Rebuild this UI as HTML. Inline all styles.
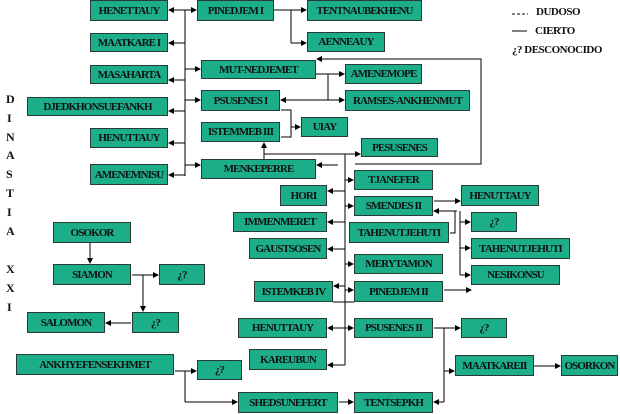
<!DOCTYPE html>
<html><head><meta charset="utf-8"><style>
body{margin:0;width:620px;height:414px;background:#fff;position:relative;overflow:hidden;font-family:"Liberation Serif",serif;font-weight:bold;}
.b{position:absolute;box-sizing:border-box;background:#1bae89;border:1px solid #2a3a34;font-size:11px;letter-spacing:-0.9px;display:flex;align-items:center;justify-content:center;color:#111;white-space:nowrap;}
.t{position:absolute;font-size:12px;color:#111;}
svg{position:absolute;left:0;top:0;}
</style></head><body>
<svg width="620" height="414" viewBox="0 0 620 414">
<defs><marker id="a" markerWidth="6" markerHeight="6" refX="5" refY="3" orient="auto" markerUnits="userSpaceOnUse"><path d="M0,0L6,3L0,6z" fill="#000"/></marker></defs>
<g stroke="#000" stroke-width="1" fill="none">
<line x1="185" y1="10" x2="185" y2="176"/>
<line x1="185" y1="10" x2="169" y2="10" marker-end="url(#a)"/>
<line x1="185" y1="10" x2="196" y2="10" marker-end="url(#a)"/>
<line x1="185" y1="43" x2="169" y2="43" marker-end="url(#a)"/>
<line x1="185" y1="80" x2="169" y2="80" marker-end="url(#a)"/>
<line x1="185" y1="69" x2="200" y2="69" marker-end="url(#a)"/>
<line x1="185" y1="100" x2="200" y2="100" marker-end="url(#a)"/>
<line x1="185" y1="111" x2="169" y2="111" marker-end="url(#a)"/>
<line x1="185" y1="143" x2="169" y2="143" marker-end="url(#a)"/>
<line x1="185" y1="165" x2="200" y2="165" marker-end="url(#a)"/>
<line x1="185" y1="175" x2="169" y2="175" marker-end="url(#a)"/>
<line x1="274" y1="10" x2="306" y2="10" marker-end="url(#a)"/>
<line x1="291" y1="10" x2="291" y2="43"/>
<line x1="291" y1="43" x2="306" y2="43" marker-end="url(#a)"/>
<polyline points="355,164 481,164 481,59 317,59" marker-end="url(#a)"/>
<line x1="316" y1="74" x2="344" y2="74" marker-end="url(#a)"/>
<line x1="328" y1="74" x2="328" y2="100"/>
<line x1="344" y1="100" x2="281" y2="100" marker-end="url(#a)"/>
<line x1="328" y1="100" x2="344" y2="100" marker-end="url(#a)"/>
<polyline points="281,110 291,110 291,137 281,137"/>
<line x1="291" y1="127" x2="300" y2="127" marker-end="url(#a)"/>
<line x1="264" y1="155" x2="264" y2="143" marker-end="url(#a)"/>
<line x1="264" y1="155" x2="264" y2="160"/>
<line x1="264" y1="154" x2="360" y2="154" marker-end="url(#a)"/>
<line x1="338" y1="165" x2="317" y2="165" marker-end="url(#a)"/>
<line x1="345" y1="154" x2="345" y2="365"/>
<line x1="345" y1="180" x2="353" y2="180" marker-end="url(#a)"/>
<line x1="345" y1="206" x2="353" y2="206" marker-end="url(#a)"/>
<line x1="345" y1="264" x2="353" y2="264" marker-end="url(#a)"/>
<line x1="345" y1="290" x2="353" y2="290" marker-end="url(#a)"/>
<line x1="345" y1="191" x2="328" y2="191" marker-end="url(#a)"/>
<line x1="345" y1="222" x2="328" y2="222" marker-end="url(#a)"/>
<line x1="345" y1="249" x2="328" y2="249" marker-end="url(#a)"/>
<line x1="345" y1="286" x2="334" y2="286" marker-end="url(#a)"/>
<line x1="333" y1="302" x2="354" y2="302"/>
<line x1="345" y1="328" x2="328" y2="328" marker-end="url(#a)"/>
<line x1="345" y1="328" x2="353" y2="328" marker-end="url(#a)"/>
<line x1="345" y1="365" x2="328" y2="365" marker-end="url(#a)"/>
<line x1="434" y1="201" x2="460" y2="201" marker-end="url(#a)"/>
<line x1="457" y1="211" x2="434" y2="211" marker-end="url(#a)"/>
<polyline points="450,233 455,233 455,211 457,211"/>
<line x1="460" y1="211" x2="460" y2="275"/>
<line x1="460" y1="222" x2="470" y2="222" marker-end="url(#a)"/>
<line x1="460" y1="248" x2="470" y2="248" marker-end="url(#a)"/>
<line x1="460" y1="275" x2="470" y2="275" marker-end="url(#a)"/>
<line x1="444" y1="290" x2="471" y2="290" marker-end="url(#a)"/>
<line x1="434" y1="328" x2="460" y2="328" marker-end="url(#a)"/>
<line x1="444" y1="328" x2="444" y2="402"/>
<line x1="444" y1="371" x2="454" y2="371" marker-end="url(#a)"/>
<line x1="444" y1="402" x2="434" y2="402" marker-end="url(#a)"/>
<line x1="534" y1="366" x2="560" y2="366" marker-end="url(#a)"/>
<line x1="339" y1="402" x2="353" y2="402" marker-end="url(#a)"/>
<line x1="175" y1="371" x2="196" y2="371" marker-end="url(#a)"/>
<line x1="185" y1="371" x2="185" y2="402"/>
<line x1="185" y1="402" x2="237" y2="402" marker-end="url(#a)"/>
<line x1="90" y1="243" x2="90" y2="263" marker-end="url(#a)"/>
<line x1="132" y1="275" x2="158" y2="275" marker-end="url(#a)"/>
<line x1="143" y1="275" x2="143" y2="311" marker-end="url(#a)"/>
<line x1="131" y1="323" x2="106" y2="323" marker-end="url(#a)"/>
<line x1="512" y1="14" x2="528" y2="14" stroke-dasharray="3,2"/>
<line x1="512" y1="31" x2="527" y2="31"/>
</g></svg>
<div class="b" style="left:90px;top:0;width:78px;height:21px">HENETTAUY</div>
<div class="b" style="left:197px;top:0;width:77px;height:21px">PINEDJEM I</div>
<div class="b" style="left:307px;top:0;width:115px;height:21px">TENTNAUBEKHENU</div>
<div class="b" style="left:307px;top:32px;width:78px;height:20px">AENNEAUY</div>
<div class="b" style="left:90px;top:33px;width:78px;height:19px">MAATKARE I</div>
<div class="b" style="left:90px;top:65px;width:78px;height:19px">MASAHARTA</div>
<div class="b" style="left:201px;top:60px;width:115px;height:19px">MUT-NEDJEMET</div>
<div class="b" style="left:27px;top:97px;width:141px;height:19px">DJEDKHONSUEFANKH</div>
<div class="b" style="left:201px;top:90px;width:79px;height:21px">PSUSENES I</div>
<div class="b" style="left:201px;top:122px;width:79px;height:20px">ISTEMMEB III</div>
<div class="b" style="left:90px;top:128px;width:78px;height:20px">HENUTTAUY</div>
<div class="b" style="left:90px;top:164px;width:78px;height:21px">AMENEMNISU</div>
<div class="b" style="left:201px;top:159px;width:115px;height:20px">MENKEPERRE</div>
<div class="b" style="left:301px;top:117px;width:47px;height:20px">UIAY</div>
<div class="b" style="left:345px;top:64px;width:77px;height:20px">AMENEMOPE</div>
<div class="b" style="left:345px;top:90px;width:125px;height:21px">RAMSES-ANKHENMUT</div>
<div class="b" style="left:361px;top:138px;width:77px;height:19px">PESUSENES</div>
<div class="b" style="left:354px;top:170px;width:79px;height:20px">TJANEFER</div>
<div class="b" style="left:280px;top:185px;width:47px;height:21px">HORI</div>
<div class="b" style="left:354px;top:196px;width:79px;height:20px">SMENDES II</div>
<div class="b" style="left:461px;top:185px;width:78px;height:21px">HENUTTAUY</div>
<div class="b" style="left:233px;top:212px;width:94px;height:20px">IMMENMERET</div>
<div class="b" style="left:349px;top:222px;width:100px;height:21px">TAHENUTJEHUTI</div>
<div class="b" style="left:471px;top:212px;width:46px;height:20px">¿?</div>
<div class="b" style="left:249px;top:238px;width:78px;height:21px">GAUSTSOSEN</div>
<div class="b" style="left:471px;top:238px;width:99px;height:21px">TAHENUTJEHUTI</div>
<div class="b" style="left:354px;top:254px;width:89px;height:20px">MERYTAMON</div>
<div class="b" style="left:471px;top:265px;width:89px;height:20px">NESIKONSU</div>
<div class="b" style="left:254px;top:281px;width:79px;height:21px">ISTEMKEB IV</div>
<div class="b" style="left:354px;top:281px;width:89px;height:21px">PINEDJEM II</div>
<div class="b" style="left:238px;top:318px;width:89px;height:20px">HENUTTAUY</div>
<div class="b" style="left:354px;top:318px;width:79px;height:20px">PSUSENES II</div>
<div class="b" style="left:461px;top:318px;width:46px;height:20px">¿?</div>
<div class="b" style="left:249px;top:349px;width:78px;height:21px">KAREUBUN</div>
<div class="b" style="left:455px;top:355px;width:79px;height:21px">MAATKAREII</div>
<div class="b" style="left:561px;top:355px;width:57px;height:21px">OSORKON</div>
<div class="b" style="left:238px;top:392px;width:100px;height:21px">SHEDSUNEFERT</div>
<div class="b" style="left:354px;top:392px;width:79px;height:21px">TENTSEPKH</div>
<div class="b" style="left:197px;top:360px;width:45px;height:20px">¿?</div>
<div class="b" style="left:53px;top:222px;width:78px;height:21px">OSOKOR</div>
<div class="b" style="left:53px;top:264px;width:78px;height:21px">SIAMON</div>
<div class="b" style="left:159px;top:264px;width:46px;height:21px">¿?</div>
<div class="b" style="left:27px;top:312px;width:78px;height:21px">SALOMON</div>
<div class="b" style="left:132px;top:312px;width:47px;height:21px">¿?</div>
<div class="b" style="left:16px;top:354px;width:158px;height:21px">ANKHYEFENSEKHMET</div>
<div class="t" style="left:6px;top:92px">D</div>
<div class="t" style="left:7px;top:111px">I</div>
<div class="t" style="left:6px;top:130px">N</div>
<div class="t" style="left:6px;top:148px">A</div>
<div class="t" style="left:6px;top:167px">S</div>
<div class="t" style="left:6px;top:186px">T</div>
<div class="t" style="left:7px;top:205px">I</div>
<div class="t" style="left:6px;top:224px">A</div>
<div class="t" style="left:6px;top:262px">X</div>
<div class="t" style="left:6px;top:281px">X</div>
<div class="t" style="left:7px;top:300px">I</div>
<div class="t" style="left:536px;top:6px;font-size:11px;letter-spacing:-0.5px">DUDOSO</div>
<div class="t" style="left:535px;top:25px;font-size:11px;letter-spacing:-0.5px">CIERTO</div>
<div class="t" style="left:512px;top:44px;font-size:11px;letter-spacing:-0.5px">¿? DESCONOCIDO</div>
</body></html>
